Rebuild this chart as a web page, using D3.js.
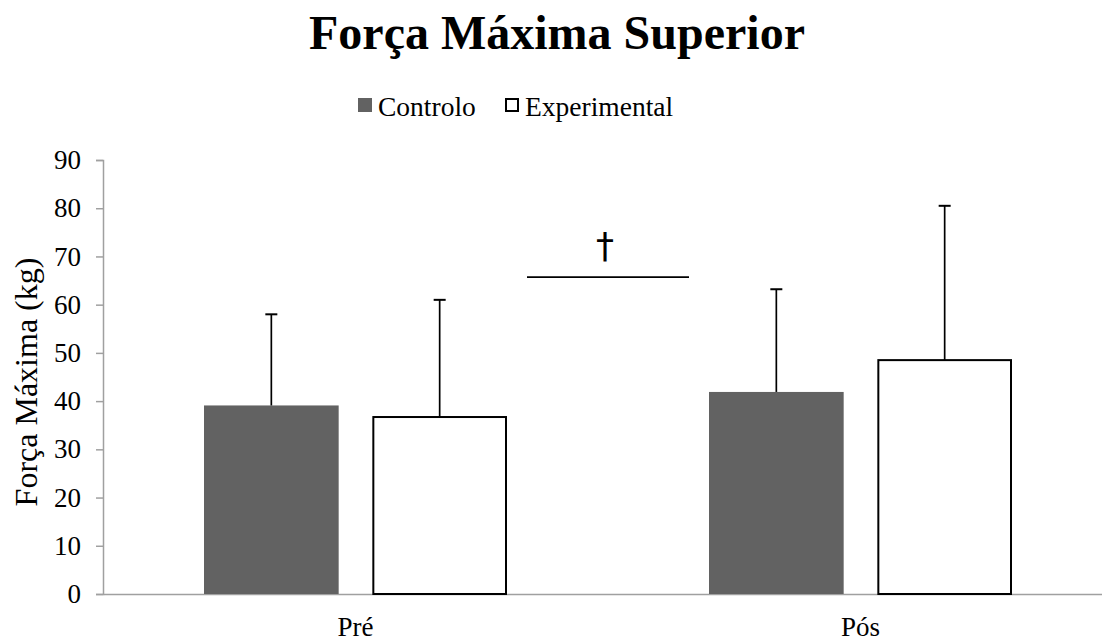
<!DOCTYPE html>
<html>
<head>
<meta charset="utf-8">
<script src="https://cdn.jsdelivr.net/npm/d3@7"></script>
<style>
  body { margin: 0; background: #fff; }
  svg text { font-family: "Liberation Serif", serif; fill: #000; }
</style>
</head>
<body>
<div id="chart"></div>
<script>
// data
var categories = ["Pré", "Pós"];
var seriesNames = ["Controlo", "Experimental"];
var controloMeans = [39.1, 41.9];
var controloErrTop = [58.0, 63.2];
var experimentalMeans = [36.7, 48.5];
var experimentalErrTop = [61.0, 80.5];
var yTicks = [0, 10, 20, 30, 40, 50, 60, 70, 80, 90];
var sigValue = 65.7;

var svgWidth = 1102;
var svgHeight = 642;
var serif = "font-family: 'Liberation Serif', serif;";

var svg = d3.select("#chart").append("svg")
    .attr("width", svgWidth)
    .attr("height", svgHeight);

// scales
var yScale = d3.scaleLinear().domain([0, 90]).range([594, 160]);
var x0 = d3.scaleBand().domain(categories).range([103, 1113]);
var x1 = d3.scaleBand().domain(seriesNames)
    .range([0, x0.bandwidth()])
    .paddingInner(0.2)
    .paddingOuter(0.6);

// build rows
var rows = [];
categories.forEach(function(c, i) {
    rows.push({cat: c, series: "Controlo", value: controloMeans[i], err: controloErrTop[i]});
    rows.push({cat: c, series: "Experimental", value: experimentalMeans[i], err: experimentalErrTop[i]});
});

// title
svg.append("text")
    .attr("x", 557)
    .attr("y", 49)
    .attr("text-anchor", "middle")
    .attr("style", serif + "font-size: 48px; font-weight: bold;")
    .text("Força Máxima Superior");

// legend
var legend = svg.append("g");
var legendX = [358, 505];
seriesNames.forEach(function(s, i) {
    var g = legend.append("g").attr("transform", `translate(${legendX[i]}, 98)`);
    g.append("rect")
        .attr("x", s === "Controlo" ? 0 : 1).attr("y", s === "Controlo" ? 0 : 1)
        .attr("width", s === "Controlo" ? 14 : 12)
        .attr("height", s === "Controlo" ? 14 : 12)
        .attr("fill", s === "Controlo" ? "#626262" : "#fff")
        .attr("stroke", s === "Controlo" ? "none" : "#000")
        .attr("stroke-width", 2);
    g.append("text")
        .attr("x", 20)
        .attr("y", 18)
        .attr("style", serif + "font-size: 27.5px;")
        .text(s);
});

// y axis
var yAxis = d3.axisLeft(yScale).tickValues(yTicks).tickSize(7).tickPadding(15);
var yG = svg.append("g")
    .attr("transform", "translate(103, 0)")
    .call(yAxis);
yG.select(".domain").attr("stroke", "#a0a0a0").attr("stroke-width", 1.5);
yG.selectAll(".tick line").attr("stroke", "#a0a0a0").attr("stroke-width", 1.5);
yG.selectAll(".tick text")
    .attr("style", serif + "font-size: 27px;")
    .attr("fill", "#000");

// x axis
var xAxis = d3.axisBottom(x0).tickSize(0).tickPadding(23);
var xG = svg.append("g")
    .attr("transform", "translate(0, 594)")
    .call(xAxis);
xG.select(".domain").attr("stroke", "#a0a0a0").attr("stroke-width", 1.5);
xG.selectAll(".tick text")
    .attr("style", serif + "font-size: 27px;")
    .attr("fill", "#000");

// y label
svg.append("text")
    .attr("transform", "translate(37, 382) rotate(-90)")
    .attr("text-anchor", "middle")
    .attr("style", serif + "font-size: 32px;")
    .text("Força Máxima (kg)");

// bars
var bars = svg.append("g");
bars.selectAll("rect")
    .data(rows)
    .enter()
    .append("rect")
    .attr("x", d => x0(d.cat) + x1(d.series) + (d.series === "Experimental" ? 1 : 0))
    .attr("y", d => yScale(d.value))
    .attr("width", d => x1.bandwidth() - (d.series === "Experimental" ? 2 : 0))
    .attr("height", d => yScale(0) - yScale(d.value))
    .attr("fill", d => d.series === "Controlo" ? "#626262" : "#fff")
    .attr("stroke", d => d.series === "Controlo" ? "none" : "#000")
    .attr("stroke-width", 2);

// error bars
var errG = svg.append("g");
errG.selectAll("line.err")
    .data(rows)
    .enter()
    .append("line")
    .attr("class", "err")
    .attr("x1", d => x0(d.cat) + x1(d.series) + x1.bandwidth() / 2)
    .attr("x2", d => x0(d.cat) + x1(d.series) + x1.bandwidth() / 2)
    .attr("y1", d => yScale(d.value))
    .attr("y2", d => yScale(d.err))
    .attr("stroke", "#000")
    .attr("stroke-width", 1.7);
errG.selectAll("line.cap")
    .data(rows)
    .enter()
    .append("line")
    .attr("class", "cap")
    .attr("x1", d => x0(d.cat) + x1(d.series) + x1.bandwidth() / 2 - 6)
    .attr("x2", d => x0(d.cat) + x1(d.series) + x1.bandwidth() / 2 + 6)
    .attr("y1", d => yScale(d.err))
    .attr("y2", d => yScale(d.err))
    .attr("stroke", "#000")
    .attr("stroke-width", 2);

// significance marker
var sigX = (x0("Pré") + x0.bandwidth() + x0("Pós")) / 2;
svg.append("line")
    .attr("x1", sigX - 81)
    .attr("x2", sigX + 81)
    .attr("y1", yScale(sigValue))
    .attr("y2", yScale(sigValue))
    .attr("stroke", "#000")
    .attr("stroke-width", 1.7);
svg.append("text")
    .attr("x", sigX - 3)
    .attr("y", yScale(sigValue) - 19)
    .attr("text-anchor", "middle")
    .attr("style", "font-family: 'DejaVu Sans', sans-serif; font-size: 36px;")
    .text("†");
</script>
</body>
</html>
